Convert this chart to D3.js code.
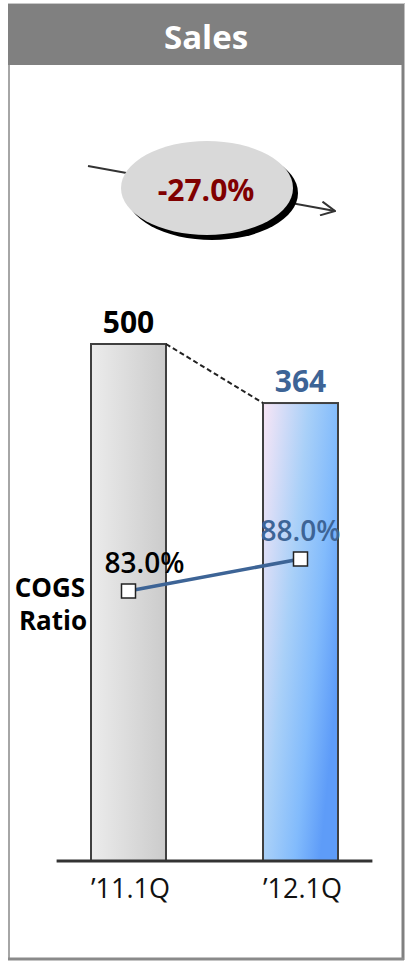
<!DOCTYPE html>
<html>
<head>
<meta charset="utf-8">
<script src="https://cdn.jsdelivr.net/npm/d3@7"></script>
<style>
  html, body { margin: 0; padding: 0; background: #fff; }
  svg { display: block; }
  text { font-family: "Open Sans", "Noto Sans", sans-serif; }
</style>
</head>
<body>
<svg id="chart" width="405" height="961"></svg>
<script>
// Quarterly sales and cost-of-goods-sold ratio
const categories = ["\u201911.1Q", "\u201912.1Q"];
const sales = [500, 364];
const cogsRatio = [83.0, 88.0];
const salesLabels = ["500", "364"];
const ratioLabels = ["83.0%", "88.0%"];
const changeLabel = "-27.0%";
const title = "Sales";

const W = 405, H = 961;
const svg = d3.select("#chart");
const defs = svg.append("defs");

// Bar fills
const g1 = defs.append("linearGradient").attr("id", "barGrey")
  .attr("x1", 0).attr("y1", 0).attr("x2", 1).attr("y2", 0);
g1.append("stop").attr("offset", 0).attr("stop-color", "#ececec");
g1.append("stop").attr("offset", 1).attr("stop-color", "#cbcbcb");

const g2 = defs.append("linearGradient").attr("id", "barBlue")
  .attr("x1", 0).attr("y1", 0).attr("x2", 1).attr("y2", 0.6);
g2.append("stop").attr("offset", 0).attr("stop-color", "#f9e6f6");
g2.append("stop").attr("offset", 0.45).attr("stop-color", "#a9d0f8");
g2.append("stop").attr("offset", 0.75).attr("stop-color", "#82bbfc");
g2.append("stop").attr("offset", 1).attr("stop-color", "#5e9cf8");

defs.append("marker").attr("id", "chev")
  .attr("viewBox", "0 0 16 16").attr("refX", 15).attr("refY", 8)
  .attr("markerWidth", 16).attr("markerHeight", 16).attr("markerUnits", "userSpaceOnUse")
  .attr("orient", "auto")
  .append("path").attr("d", "M1,1 L15,8 L1,15")
  .attr("fill", "none").attr("stroke", "#333").attr("stroke-width", 2);

// Panel frame
svg.append("rect").attr("x", 8).attr("y", 3).attr("width", 395).attr("height", 955)
  .attr("fill", "#fff").attr("stroke", "none");
svg.append("line").attr("x1", 9).attr("x2", 9).attr("y1", 64).attr("y2", 958)
  .attr("stroke", "#a6a6a6").attr("stroke-width", 2);
svg.append("line").attr("x1", 403).attr("x2", 403).attr("y1", 3).attr("y2", 960)
  .attr("stroke", "#808080").attr("stroke-width", 3);
svg.append("line").attr("x1", 8).attr("x2", 404).attr("y1", 959).attr("y2", 959)
  .attr("stroke", "#8a8a8a").attr("stroke-width", 3);
svg.append("rect").attr("x", 8).attr("y", 3).attr("width", 396).attr("height", 62)
  .attr("fill", "#808080");
svg.append("line").attr("x1", 8).attr("x2", 404).attr("y1", 3.5).attr("y2", 3.5)
  .attr("stroke", "#c8c8c8").attr("stroke-width", 1);
svg.append("text").attr("x", 206).attr("y", 49).attr("text-anchor", "middle")
  .attr("fill", "#fff").attr("font-size", 33).attr("font-weight", 700).text(title);

// Scales
const x = d3.scaleBand().domain(categories).range([56.6, 372.4])
  .paddingInner(0.564).paddingOuter(0.2);
const y = d3.scaleLinear().domain([-691, 500]).range([861, 344]);
const yr = d3.scaleLinear().domain([80, 90]).range([610.2, 546.2]);
const cx = d => x(d) + x.bandwidth() / 2;

// Bars
const fills = ["url(#barGrey)", "url(#barBlue)"];
svg.selectAll("rect.bar").data(sales).join("rect")
  .attr("class", "bar")
  .attr("x", (d, i) => x(categories[i]))
  .attr("y", d => y(d))
  .attr("width", x.bandwidth())
  .attr("height", d => y.range()[0] - y(d))
  .attr("fill", (d, i) => fills[i])
  .attr("stroke", "#404040").attr("stroke-width", 2);

// Dashed connector between bar tops
svg.append("line")
  .attr("x1", x(categories[0]) + x.bandwidth()).attr("y1", y(sales[0]))
  .attr("x2", x(categories[1])).attr("y2", y(sales[1]))
  .attr("stroke", "#222").attr("stroke-width", 2).attr("stroke-dasharray", "5,3");

// Baseline axis
const xAxis = d3.axisBottom(x).tickSize(0).tickPadding(18);
const ax = svg.append("g").attr("transform", `translate(0,${y.range()[0]})`).call(xAxis);
ax.select(".domain").remove();
svg.append("line").attr("x1", x.range()[0]).attr("x2", x.range()[1])
  .attr("y1", y.range()[0]).attr("y2", y.range()[0])
  .attr("stroke", "#333").attr("stroke-width", 3);
ax.selectAll("text").attr("font-size", 27).attr("fill", "#111")
  .attr("font-family", "'Open Sans', 'Noto Sans', sans-serif")
  .attr("dy", "0.71em").attr("dx", 2);

// Value labels
const valColors = ["#000", "#3d6496"];
svg.selectAll("text.val").data(sales).join("text")
  .attr("class", "val")
  .attr("x", (d, i) => cx(categories[i]))
  .attr("y", d => y(d) - 11)
  .attr("text-anchor", "middle").attr("font-size", 30).attr("font-weight", 700)
  .attr("fill", (d, i) => valColors[i])
  .text((d, i) => salesLabels[i]);

// Change bubble with arrow
svg.append("line").attr("x1", 88).attr("y1", 166).attr("x2", 335).attr("y2", 211)
  .attr("stroke", "#333").attr("stroke-width", 2).attr("marker-end", "url(#chev)");
svg.append("ellipse").attr("cx", 212).attr("cy", 193).attr("rx", 86).attr("ry", 47)
  .attr("fill", "#000");
svg.append("ellipse").attr("cx", 207).attr("cy", 188).attr("rx", 86).attr("ry", 47)
  .attr("fill", "#d9d9d9");
svg.append("text").attr("x", 206).attr("y", 201).attr("text-anchor", "middle")
  .attr("font-size", 30).attr("font-weight", 700).attr("fill", "#800000")
  .text(changeLabel);

// COGS ratio line
const ratioPts = cogsRatio.map((v, i) => [cx(categories[i]), yr(v)]);
svg.append("path").attr("d", d3.line()(ratioPts))
  .attr("fill", "none").attr("stroke", "#3d6496").attr("stroke-width", 3.5);
svg.selectAll("rect.mk").data(ratioPts).join("rect")
  .attr("class", "mk")
  .attr("x", d => d[0] - 7).attr("y", d => d[1] - 7)
  .attr("width", 14).attr("height", 14)
  .attr("fill", "#fff").attr("stroke", "#222").attr("stroke-width", 1.5);

const rcol = ["#000", "#3d6496"];
const rdx = [16, 0];
svg.selectAll("text.rl").data(cogsRatio).join("text")
  .attr("class", "rl")
  .attr("x", (d, i) => cx(categories[i]) + rdx[i])
  .attr("y", d => yr(d) - 18)
  .attr("text-anchor", "middle").attr("font-size", 28).attr("font-weight", 600)
  .attr("fill", (d, i) => rcol[i])
  .text((d, i) => ratioLabels[i]);

// Series caption
const cap = svg.append("text").attr("text-anchor", "middle")
  .attr("font-size", 26).attr("font-weight", 700).attr("fill", "#000");
cap.append("tspan").attr("x", 50).attr("y", 597).text("COGS");
cap.append("tspan").attr("x", 53).attr("y", 630).text("Ratio");
</script>
</body>
</html>
